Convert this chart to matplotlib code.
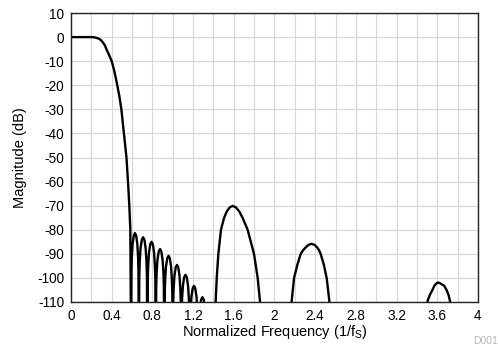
import numpy as np
from matplotlib import pyplot as plt

plt.rcParams['font.family'] = ['Liberation Sans', 'DejaVu Sans']
plt.rcParams['axes.unicode_minus'] = False

# main lobe (passband and transition)
main_f = [0.0, 0.1, 0.2, 0.22, 0.25, 0.28, 0.3, 0.33, 0.35, 0.375, 0.4, 0.425, 0.45, 0.475,
          0.495, 0.52, 0.545, 0.56, 0.573, 0.583, 0.59]
main_db = [0.0, 0.0, 0.0, -0.05, -0.3, -0.8, -1.5, -3.2, -5.2, -7.5, -10.0, -14.0, -19.0, -24.5,
           -30.0, -40.0, -50.0, -60.0, -70.0, -80.0, -130.0]

# small stopband lobes: left null, right null, peak level
lobe_left = [0.59, 0.667, 0.75, 0.833, 0.917, 1.0, 1.083, 1.167, 1.25]
lobe_right = [0.667, 0.75, 0.833, 0.917, 1.0, 1.083, 1.167, 1.25, 1.333]
lobe_peak = [-81.4, -83.1, -85.0, -88.0, -90.8, -94.6, -98.7, -103.3, -108.0]
# shape of one small lobe (fraction of width, dB below peak)
shape_frac = [0.0, 0.05, 0.1, 0.2, 0.35, 0.5, 0.65, 0.8, 0.9, 0.95, 1.0]
shape_off = [-50.0, -16.0, -10.0, -4.5, -1.0, 0.0, -1.0, -4.5, -10.0, -16.0, -50.0]

# larger image lobes
lobe_a_f = [1.40, 1.422, 1.432, 1.448, 1.474, 1.504, 1.531, 1.56, 1.589, 1.62, 1.654, 1.687,
            1.736, 1.799, 1.835, 1.857, 1.87]
lobe_a_db = [-130, -109.5, -100.1, -90.1, -80.0, -75.1, -72.4, -70.7, -70.1, -70.7, -72.4, -75.1,
             -80.0, -90.1, -100.1, -109.5, -130]
lobe_b_f = [2.15, 2.169, 2.192, 2.225, 2.257, 2.278, 2.300, 2.333, 2.365, 2.395, 2.424, 2.44,
            2.454, 2.485, 2.513, 2.539, 2.56]
lobe_b_db = [-130, -109.5, -100.1, -94.5, -90.1, -88.7, -87.6, -86.3, -85.85, -86.3, -87.6, -88.7,
             -90.1, -94.5, -100.1, -109.5, -130]
lobe_c_f = [3.49, 3.505, 3.528, 3.551, 3.571, 3.59, 3.610, 3.63, 3.669, 3.692, 3.71, 3.725, 3.74]
lobe_c_db = [-130, -109.5, -107.0, -105.1, -103.3, -102.3, -101.9, -102.3, -103.3, -105.1,
             -107.0, -109.5, -130]

f = list(main_f)
db = list(main_db)
for a, b, p in zip(lobe_left, lobe_right, lobe_peak):
    for s, o in zip(shape_frac, shape_off):
        f.append(a + s * (b - a))
        db.append(p + o)
f += lobe_a_f + lobe_b_f + lobe_c_f + [4.0]
db += lobe_a_db + lobe_b_db + lobe_c_db + [-130]

fig = plt.figure(figsize=(4.98, 3.47), dpi=100)
ax = fig.add_axes([0.1426, 0.1297, 0.8172, 0.8328])
ax.plot(f, db, color='black', lw=1.7, solid_joinstyle='round')

ax.set_xlim(0, 4)
ax.set_ylim(-110, 10)
ax.set_xticks(np.arange(0, 4.01, 0.4))
ax.set_xticklabels(['0', '0.4', '0.8', '1.2', '1.6', '2', '2.4', '2.8', '3.2', '3.6', '4'])
ax.set_xticks(np.arange(0, 4.01, 0.2), minor=True)
ax.set_yticks(np.arange(-110, 11, 10))
ax.tick_params(which='both', length=0, labelsize=9.8, pad=5)
ax.grid(which='both', color='#d8d8d8', lw=0.9)
ax.set_axisbelow(True)
for sp in ax.spines.values():
    sp.set_linewidth(1.0)
    sp.set_color('#222222')

ax.set_xlabel(r'Normalized Frequency (1/f$_\mathregular{S}$)', fontsize=10.5, labelpad=0)
ax.set_ylabel('Magnitude (dB)', fontsize=10.5, labelpad=7)
fig.text(0.951, 0.01, 'D001', fontsize=7.5, color='#b8b8b8')

fig.savefig('out.png', dpi=100)
